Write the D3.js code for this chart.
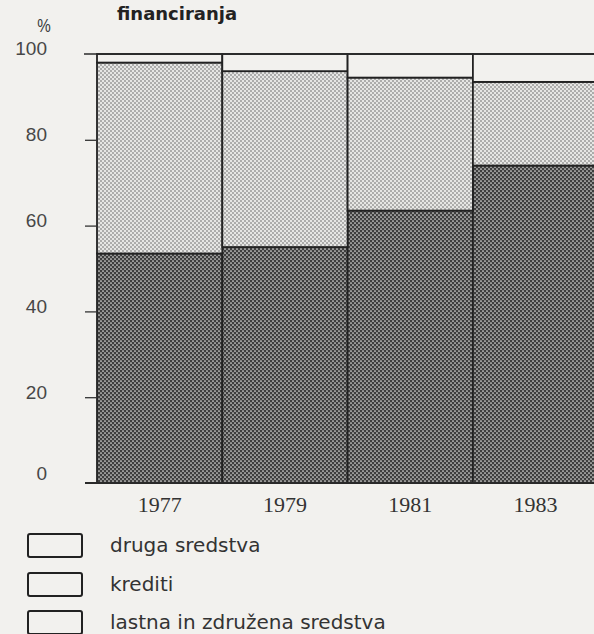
<!DOCTYPE html>
<html>
<head>
<meta charset="utf-8">
<script src="https://cdn.jsdelivr.net/npm/d3@7"></script>
<style>
  html, body { margin: 0; padding: 0; background: #f2f1ee; }
  svg { display: block; }
</style>
</head>
<body>
<svg id="chart" width="594" height="634"></svg>
<script>
// ---- data ----
const years = ["1977", "1979", "1981", "1983"];
const lastna = [53.5, 55, 63.5, 74];     // lastna in združena sredstva
const krediti = [44.5, 41, 31, 19.5];    // krediti
const druga = [2, 4, 5.5, 6.5];          // druga sredstva
const yTicks = [0, 20, 40, 60, 80, 100];
const seriesNames = ["druga sredstva", "krediti", "lastna in združena sredstva"];

const svg = d3.select("#chart");
const W = 594, H = 634;

// patterns (halftone look)
const defs = svg.append("defs");
const pl = defs.append("pattern").attr("id", "pLight")
  .attr("patternUnits", "userSpaceOnUse").attr("width", 4).attr("height", 4);
pl.append("rect").attr("width", 4).attr("height", 4).attr("fill", "#e6e6e4");
pl.append("circle").attr("cx", 1).attr("cy", 1).attr("r", 0.72).attr("fill", "#555");
pl.append("circle").attr("cx", 3).attr("cy", 3).attr("r", 0.72).attr("fill", "#555");

const pd = defs.append("pattern").attr("id", "pDark")
  .attr("patternUnits", "userSpaceOnUse").attr("width", 4).attr("height", 4);
pd.append("rect").attr("width", 4).attr("height", 4).attr("fill", "#3e3e3e");
pd.append("circle").attr("cx", 1).attr("cy", 1).attr("r", 0.85).attr("fill", "#e2e2e0");
pd.append("circle").attr("cx", 3).attr("cy", 3).attr("r", 0.85).attr("fill", "#e2e2e0");

// scales
const y = d3.scaleLinear().domain([0, 100]).range([483, 54]);
const x = d3.scaleBand().domain(years).range([97, 97 + 4 * 125.3]).padding(0);

// stacked data
const rows = years.map((yr, i) => ({ year: yr, lastna: lastna[i], krediti: krediti[i], druga: druga[i] }));
const stack = d3.stack().keys(["lastna", "krediti", "druga"]);
const layers = stack(rows);
const fillByKey = { lastna: "url(#pDark)", krediti: "url(#pLight)", druga: "#f2f1ee" };

layers.forEach(layer => {
  svg.append("g").selectAll("rect").data(layer).enter().append("rect")
    .attr("x", d => x(d.data.year))
    .attr("y", d => y(d[1]))
    .attr("width", x.bandwidth())
    .attr("height", d => y(d[0]) - y(d[1]))
    .attr("fill", fillByKey[layer.key])
    .attr("stroke", "#222")
    .attr("stroke-width", 1.8);
});

// top and bottom lines
svg.append("line").attr("x1", 84).attr("x2", W).attr("y1", y(100)).attr("y2", y(100))
  .attr("stroke", "#2a2a2a").attr("stroke-width", 1.6);
svg.append("line").attr("x1", 85).attr("x2", W).attr("y1", y(0)).attr("y2", y(0))
  .attr("stroke", "#2a2a2a").attr("stroke-width", 1.8);

// y axis
const yAxis = d3.axisLeft(y).tickValues(yTicks).tickSize(12).tickFormat(d3.format("d"));
const ya = svg.append("g").attr("transform", "translate(97,0)").call(yAxis);
ya.select(".domain").remove();
ya.selectAll(".tick line").attr("stroke", "#333").attr("stroke-width", 1.3)
  .attr("display", d => (d === 100 || d === 0) ? "none" : null);
ya.selectAll(".tick text")
  .attr("x", -50).attr("dy", d => d === 0 ? "-0.2em" : "0.05em")
  .attr("fill", "#474747")
  .style("font-family", "'Liberation Sans', Arial, sans-serif")
  .style("font-size", "19px");

// x axis labels
const xAxis = d3.axisBottom(x).tickSize(0).tickPadding(0);
const xa = svg.append("g").attr("transform", "translate(0,494)").call(xAxis);
xa.select(".domain").remove();
xa.selectAll(".tick text")
  .attr("dy", "0.8em")
  .attr("fill", "#333")
  .style("font-family", "'Liberation Serif', 'Times New Roman', serif")
  .style("font-size", "22px");

// % sign and title
svg.append("text").attr("x", 44).attr("y", 32).attr("text-anchor", "middle")
  .attr("transform", "translate(44,0) scale(0.8,1) translate(-44,0)")
  .attr("fill", "#3a3a3a")
  .style("font-family", "'Liberation Sans', Arial, sans-serif").style("font-size", "19px")
  .text("%");
svg.append("text").attr("x", 117).attr("y", 20)
  .attr("fill", "#222")
  .style("font-family", "'DejaVu Sans', sans-serif").style("font-weight", "bold").style("font-size", "18px")
  .text("financiranja");

// legend
const legY = [534, 573, 611];
const leg = svg.append("g");
seriesNames.forEach((name, i) => {
  leg.append("rect").attr("x", 28).attr("y", legY[i]).attr("width", 54).attr("height", 23)
    .attr("rx", 2).attr("fill", "none").attr("stroke", "#222").attr("stroke-width", 2);
  leg.append("text").attr("x", 110).attr("y", legY[i] + 18)
    .attr("fill", "#333")
    .style("font-family", "'DejaVu Sans', sans-serif").style("font-size", "20px")
    .text(name);
});
</script>
</body>
</html>
